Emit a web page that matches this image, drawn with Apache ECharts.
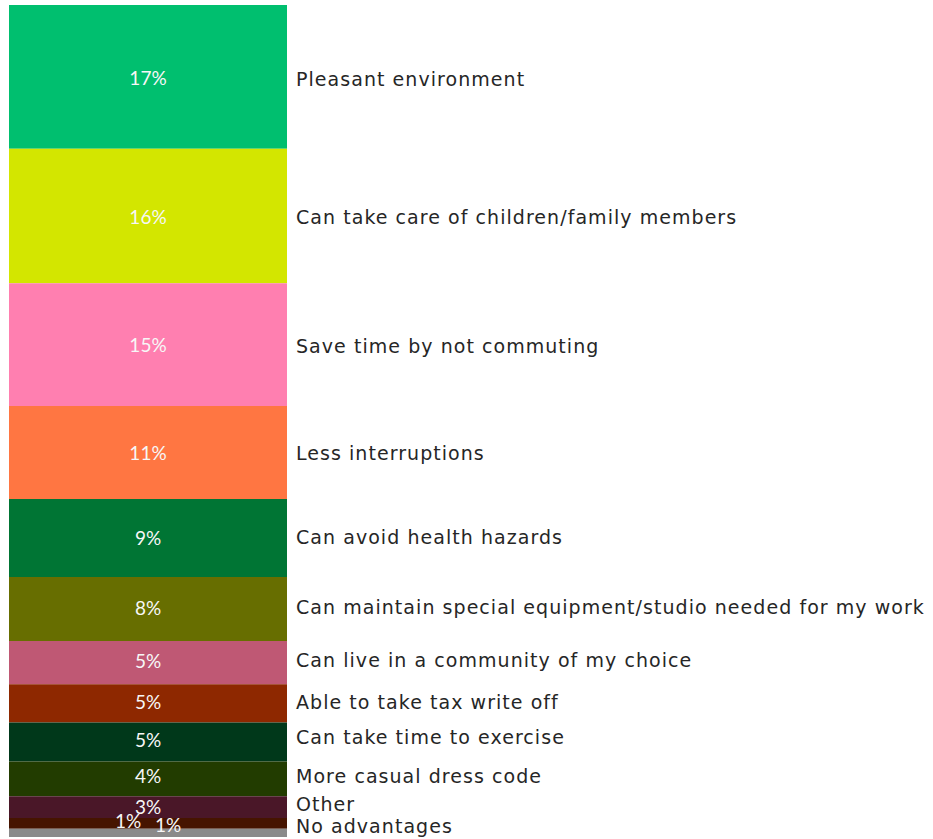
<!DOCTYPE html>
<html>
<head>
<meta charset="utf-8">
<script src="https://cdn.jsdelivr.net/npm/echarts@6/dist/echarts.min.js"></script>
<style>
  html, body { margin: 0; padding: 0; background: #ffffff; }
  #chart { width: 933px; height: 839px; }
  /* category names are set a little wider than the default tracking */
  #chart svg text[fill="#262626"],
  #chart svg text[fill="rgb(38,38,38)"] { letter-spacing: 1.05px; }
</style>
</head>
<body>
<div id="chart"></div>
<script>
// Advantages of working from home – share of responses, top to bottom
const categories = [
  'Pleasant environment',
  'Can take care of children/family members',
  'Save time by not commuting',
  'Less interruptions',
  'Can avoid health hazards',
  'Can maintain special equipment/studio needed for my work',
  'Can live in a community of my choice',
  'Able to take tax write off',
  'Can take time to exercise',
  'More casual dress code',
  'Other',
  'No advantages',
  ''
];
const shares = [17.3, 16.2, 14.8, 11.2, 9.4, 7.7, 5.2, 4.6, 4.7, 4.2, 2.6, 1.3, 1.0];
const colors = [
  '#00bf6f', '#d3e600', '#ff7fb0', '#ff7642', '#007534', '#676e00',
  '#bf5874', '#8e2800', '#00381a', '#223c00', '#4a1728', '#461400', '#8a8a8a'
];

const total = shares.reduce((a, b) => a + b, 0);

// label nudges (x, y) in pixels; the small bottom segments are pushed apart
const pctOffsets = [[0, 1], [0, 1], [0, 0], [0, 0], [0, -1], [0, -2], [0, -2], [0, -2],
                    [0, -2], [0, -3], [0, -1], [-20, -3], [20, -8]];
const nameOffsets = [[0, 2], [0, 1], [0, 1], [0, 0], [0, -1], [0, -2], [0, -3], [0, -1],
                     [0, -5], [0, -3], [0, -3], [0, 3], [0, 0]];

const series = [];
categories.forEach((name, i) => {
  series.push({
    type: 'bar',
    name: 'pct' + i,
    xAxisIndex: 0,
    stack: 'share',
    barWidth: '100%',
    data: [shares[i]],
    itemStyle: { color: colors[i] },
    label: {
      show: true,
      position: 'inside',
      offset: pctOffsets[i],
      formatter: () => Math.round(shares[i]) + '%',
      color: '#f7f7f7',
      fontFamily: 'Lato',
      fontSize: 19
    },
    emphasis: { disabled: true },
    silent: true
  });
  series.push({
    type: 'bar',
    name: 'name' + i,
    xAxisIndex: 1,
    stack: 'names',
    barWidth: '100%',
    data: [shares[i]],
    itemStyle: { color: 'rgba(0,0,0,0)' },
    label: {
      show: name !== '',
      position: 'right',
      distance: 9,
      offset: nameOffsets[i],
      formatter: () => name,
      color: '#262626',
      fontFamily: 'DejaVu Sans',
      fontSize: 19,
      lineHeight: 20
    },
    emphasis: { disabled: true },
    silent: true
  });
});

const chart = echarts.init(document.getElementById('chart'), null, { renderer: 'svg' });
chart.setOption({
  animation: false,
  backgroundColor: '#ffffff',
  grid: { left: 9, right: 646, top: 5, bottom: 2, containLabel: false },
  xAxis: [
    { type: 'category', data: [''], show: false },
    { type: 'category', data: [''], show: false }
  ],
  yAxis: {
    type: 'value',
    min: 0,
    max: total,
    inverse: true,
    show: false
  },
  series: series
});
</script>
</body>
</html>
